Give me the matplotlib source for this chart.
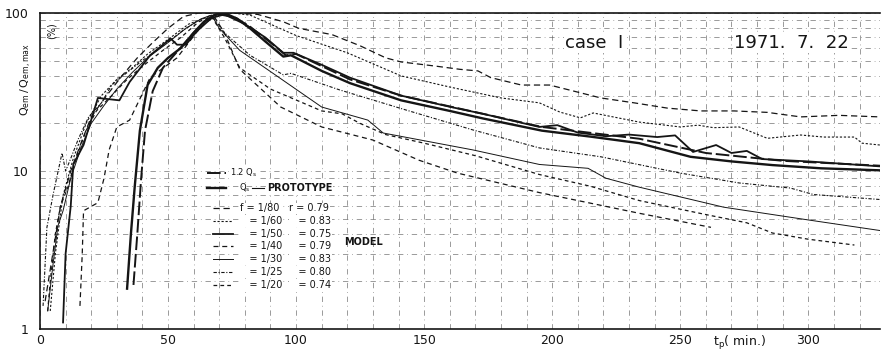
import numpy as np
import matplotlib.pyplot as plt

# prototype, Qs
t_qs = [34, 35.5, 37, 39, 42, 46, 50, 55, 60, 64, 68, 72, 77, 82, 88, 95, 98, 110, 121, 141, 160, 173, 196, 215, 234, 254, 270, 286, 305, 328]
q_qs = [1.8, 4, 8, 18, 35, 45, 52, 60, 75, 88, 97, 100, 92, 80, 66, 53, 54, 43, 36, 28, 24, 21.5, 18, 16.5, 15, 12.3, 11.5, 10.9, 10.4, 10.1]
# prototype, 1.2 Qs
t_q12 = [36.5, 38, 39.5, 41, 44, 48, 54, 60, 65, 70, 76, 82, 90, 96, 100, 121, 141, 173, 196, 234, 260, 290, 328]
q_q12 = [1.9, 4, 9, 18, 32, 45, 58, 75, 90, 98, 94, 82, 65, 54, 55, 38, 30, 23, 19, 16, 13, 11.6, 10.8]

# model runs
t_80 = [2, 5, 8, 12, 16, 20, 26, 32, 38, 44, 50, 56, 62, 75, 85, 95, 101, 114, 125, 135, 141, 155, 164, 171, 176, 188, 199, 219, 232, 245, 258, 271, 284, 297, 312, 328]
q_80 = [1.5, 3, 6, 10, 15, 22, 30, 40, 52, 65, 80, 95, 100, 100, 98, 88, 80, 73, 62, 52, 49, 46, 44, 43, 39, 35, 35, 29, 27, 25, 24, 24, 23.5, 22, 22.5, 22]

t_60 = [4, 6, 9, 13, 18, 24, 30, 36, 42, 50, 58, 66, 75, 82, 100, 120, 141, 160, 180, 195, 203, 211, 216, 234, 250, 257, 263, 273, 284, 297, 306, 318, 321, 328]
q_60 = [1.3, 3, 7, 12, 20, 30, 38, 45, 55, 68, 85, 95, 100, 97, 72, 56, 40, 34, 29, 27, 23.6, 21.7, 23.3, 20.4, 19, 19.5, 18.8, 19, 16.1, 16.9, 16.4, 16.4, 15, 14.6]

t_50 = [9, 10, 12, 13, 17, 22.6, 31, 35, 43, 51, 53.5, 57, 61, 67, 72, 80, 88, 95, 99, 110, 121, 141, 160, 173, 195, 202, 210, 221, 230, 241, 248, 255, 264, 270, 276, 282, 300, 328]
q_50 = [1.1, 3, 6, 11, 14.6, 29, 28, 36.6, 54, 69, 63, 63, 76, 93, 98, 85, 70, 56, 56, 47, 39, 30, 25.5, 23, 19, 19.5, 17.5, 16.6, 17, 16.4, 16.8, 13.2, 14.6, 13, 13.4, 11.9, 11.5, 10.7]

t_40 = [15.6, 16.5, 17, 22.6, 25, 27, 30, 35, 43, 53.5, 61, 64, 68, 72, 78, 94, 110, 130, 148, 163, 195, 234, 262]
q_40 = [1.4, 3, 5.6, 6.3, 9, 13.6, 19, 21, 39, 52, 75, 85, 95, 75, 44, 25.4, 19, 15.7, 11.7, 9.7, 7.3, 5.4, 4.4]

t_30 = [3, 5, 7, 9, 12, 16, 20, 25, 30, 36, 42, 50, 57, 63, 67, 70, 78, 91, 110, 128, 134, 169, 195, 214, 221, 234, 267, 300, 328]
q_30 = [1.3, 2.5, 4.5, 5.6, 9, 14, 20, 26, 33, 42, 52, 65, 80, 92, 97, 80, 58, 41.5, 25.4, 21, 17.4, 13.6, 11, 10.4, 9, 7.9, 5.9, 4.9, 4.2]

t_25 = [1.2, 2.7, 5.2, 8.6, 10, 12, 15, 19, 24, 28, 34, 40, 48, 56, 62, 67, 72, 82, 95, 98, 117, 143, 169, 195, 219, 250, 273, 293, 302, 328]
q_25 = [1.4, 4.4, 7.2, 13, 10, 12, 16, 22, 27, 35, 42, 50, 62, 78, 90, 97, 75, 54, 40.6, 41.5, 32.6, 24.3, 18.2, 14, 12.3, 9.7, 8.4, 7.8, 7.1, 6.6]

t_20 = [3, 4, 6, 8, 11, 14, 18, 22, 28, 34, 40, 48, 55, 62, 67, 72, 78, 90, 110, 118, 125, 135, 150, 170, 195, 215, 234, 260, 276, 286, 300, 318]
q_20 = [1.3, 2, 4, 6, 8, 12, 18, 24, 30, 38, 46, 58, 70, 88, 95, 70, 45, 33, 24, 23, 20, 17, 15, 12.5, 9.5, 8, 6.5, 5.3, 4.7, 4.05, 3.7, 3.4]

model_f = ["1/80", "1/60", "1/50", "1/40", "1/30", "1/25", "1/20"]
model_r = ["0.79", "0.83", "0.75", "0.79", "0.83", "0.80", "0.74"]

ink = "#151515"
fig = plt.figure(figsize=(8.82, 3.53), dpi=100)
ax = fig.add_axes([40/882, 24/353, 840/882, 316/353])

styles_model = [
    dict(lw=0.9, dashes=(5, 3)),
    dict(lw=0.8, dashes=(2, 1.6)),
    dict(lw=1.3, ls="-"),
    dict(lw=0.9, dashes=(4, 3)),
    dict(lw=0.7, ls="-"),
    dict(lw=0.8, dashes=(3, 1.5, 1, 1.5)),
    dict(lw=0.9, dashes=(3, 2.5)),
]
models = [(t_80, q_80), (t_60, q_60), (t_50, q_50), (t_40, q_40),
          (t_30, q_30), (t_25, q_25), (t_20, q_20)]

ax.plot(t_qs, q_qs, color=ink, lw=1.7)
ax.plot(t_q12, q_q12, color=ink, lw=1.4, dashes=(7, 2))
for (tt, qq), st in zip(models, styles_model):
    ax.plot(tt, qq, color=ink, **st)

ax.set_yscale("log")
ax.set_xlim(0, 328)
ax.set_ylim(1, 100)
ax.set_xticks([0, 50, 100, 150, 200, 250, 300])
ax.set_xticklabels(["0", "50", "100", "150", "200", "250", "300"])
ax.set_xticks(np.arange(10, 330, 10), minor=True)
ax.set_yticks([1, 10, 100])
ax.set_yticklabels(["1", "10", "100"])
ax.tick_params(which="both", length=0, labelsize=9, colors=ink)
ax.tick_params(axis="y", pad=8)
ax.grid(True, which="both", color="#555555", lw=0.55, ls=(0, (7, 5, 1, 5)), alpha=0.75)
for s in ["top", "left", "bottom"]:
    ax.spines[s].set_color(ink)
    ax.spines[s].set_linewidth(1.2)
ax.spines["right"].set_visible(False)

ax.text(-0.016, 0.79, r"$\mathrm{Q_{em}\,/\,Q_{em,max}}$", transform=ax.transAxes,
        rotation=90, ha="center", va="center", fontsize=8, color=ink)
ax.text(0.014, 0.945, "(%)", transform=ax.transAxes, rotation=90,
        ha="center", va="center", fontsize=7, color=ink)
ax.text(0.66, 0.905, "case  I", transform=ax.transAxes, fontsize=13,
        color=ink, ha="center", va="center",
        bbox=dict(fc="white", ec="none", pad=1))
ax.text(0.895, 0.905, "1971.  7.  22", transform=ax.transAxes, fontsize=13,
        color=ink, ha="center", va="center",
        bbox=dict(fc="white", ec="none", pad=1))
ax.text(0.833, -0.045, r"$\mathrm{t_p}$( min.)", transform=ax.transAxes,
        fontsize=9, color=ink, ha="center", va="center")

# legend drawn by hand
tr = ax.transAxes
ax.plot([0.199, 0.222], [0.495, 0.495], transform=tr, color=ink, lw=1.4, dashes=(7, 2))
ax.plot([0.199, 0.222], [0.447, 0.447], transform=tr, color=ink, lw=1.7)
ax.text(0.226, 0.495, r"1.2 $\mathrm{Q_s}$", transform=tr, fontsize=6, va="center", color=ink,
        bbox=dict(fc="white", ec="none", pad=0.5))
ax.text(0.237, 0.447, r"$\mathrm{Q_s}$", transform=tr, fontsize=6, va="center", color=ink)
ax.plot([0.252, 0.267], [0.447, 0.447], transform=tr, color=ink, lw=0.8)
ax.text(0.27, 0.447, "PROTOTYPE", transform=tr, fontsize=7, va="center", color=ink,
        fontweight="bold", bbox=dict(fc="white", ec="none", pad=0.5))
y0 = 0.383
dy = 0.0405
for i, st in enumerate(styles_model):
    yy = y0 - i * dy
    ax.plot([0.206, 0.230], [yy, yy], transform=tr, color=ink, **st)
    fl = "f = " if i == 0 else "   = "
    rl = "r = " if i == 0 else "   = "
    ax.text(0.238, yy, fl + model_f[i], transform=tr, fontsize=7, va="center",
            color=ink, bbox=dict(fc="white", ec="none", pad=0.3))
    ax.text(0.297, yy, rl + model_r[i], transform=tr, fontsize=7, va="center",
            color=ink, bbox=dict(fc="white", ec="none", pad=0.3))
ax.text(0.362, 0.275, "MODEL", transform=tr, fontsize=7, va="center", color=ink,
        fontweight="bold")

fig.savefig("out.png", dpi=100)
